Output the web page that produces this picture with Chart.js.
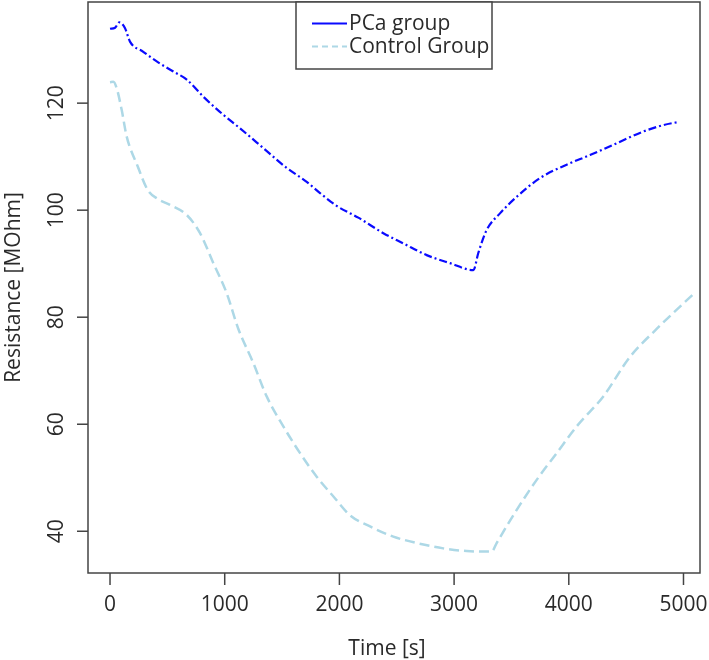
<!DOCTYPE html>
<html lang="en">
<head>
    <meta charset="UTF-8">
    <title>Resistance over time</title>
    <script src="https://cdn.jsdelivr.net/npm/chart.js"></script>
    <style>
        body {
            margin: 0;
            background-color: #fff;
        }
        .wrap {
            width: 709px;
            height: 660px;
        }
    </style>
</head>
<body>
    <div class="wrap">
        <canvas id="resChart"></canvas>
    </div>
    <script>
        // values
        const pcaTime = [0, 44, 81, 131, 174, 290, 407, 552, 669, 814, 989, 1133, 1337, 1540, 1715, 1831, 1976, 2165, 2383, 2557, 2761, 2964, 3168, 3211, 3284, 3400, 3546, 3749, 3981, 4185, 4417, 4650, 4824, 4960];
        const pcaResistance = [133.9, 134.1, 135.1, 134.0, 131.5, 129.6, 127.8, 125.9, 124.4, 121.2, 117.8, 115.3, 111.6, 107.9, 105.3, 103.2, 100.8, 98.6, 95.7, 93.8, 91.6, 90.1, 88.8, 92.0, 96.3, 99.4, 102.5, 106.0, 108.5, 110.3, 112.5, 114.7, 115.9, 116.5];

        const ctrlTime = [0, 29, 58, 102, 145, 241, 328, 416, 523, 669, 785, 901, 1017, 1119, 1250, 1366, 1511, 1657, 1802, 1948, 2092, 2267, 2470, 2674, 2906, 3110, 3328, 3371, 3546, 3720, 3894, 4069, 4301, 4534, 4766, 5100];
        const ctrlResistance = [123.9, 124.0, 122.8, 118.7, 113.8, 108.2, 103.8, 102.1, 101.0, 99.1, 95.7, 90.1, 84.5, 77.8, 71.4, 65.2, 59.6, 54.6, 50.2, 46.5, 43.0, 40.9, 39.0, 37.8, 36.8, 36.3, 36.2, 37.8, 44.0, 49.6, 54.6, 59.6, 65.2, 72.6, 77.8, 84.6];

        const xTicks = [0, 1000, 2000, 3000, 4000, 5000];
        const yTicks = [40, 60, 80, 100, 120];
        const seriesNames = ['PCa group', 'Control Group'];

        const FONT = '21px "Open Sans"';
        const INK = '#2a2a2a';

        function toPoints(xs, ys) {
            return xs.map((x, i) => ({ x: x, y: ys[i] }));
        }

        // R-style box, ticks, titles and legend
        const rAxes = {
            id: 'rAxes',
            afterDatasetsDraw(chart) {
                const ctx = chart.ctx;
                const a = chart.chartArea;
                const xs = chart.scales.x;
                const ys = chart.scales.y;
                ctx.save();
                ctx.strokeStyle = '#444';
                ctx.lineWidth = 1.5;
                ctx.strokeRect(a.left, a.top, a.right - a.left, a.bottom - a.top);

                ctx.fillStyle = INK;
                ctx.font = FONT;

                // x axis
                ctx.textAlign = 'center';
                ctx.textBaseline = 'alphabetic';
                xTicks.forEach(t => {
                    const px = xs.getPixelForValue(t);
                    ctx.beginPath();
                    ctx.moveTo(px, a.bottom);
                    ctx.lineTo(px, a.bottom + 12);
                    ctx.stroke();
                    ctx.fillText(String(t), px, 611);
                });
                ctx.fillText('Time [s]', (a.left + a.right) / 2 - 7, 655);

                // y axis
                yTicks.forEach(t => {
                    const py = ys.getPixelForValue(t);
                    ctx.beginPath();
                    ctx.moveTo(a.left, py);
                    ctx.lineTo(a.left - 11, py);
                    ctx.stroke();
                    ctx.save();
                    ctx.translate(63, py);
                    ctx.rotate(-Math.PI / 2);
                    ctx.fillText(String(t), 0, 0);
                    ctx.restore();
                });
                ctx.save();
                ctx.translate(19.5, (a.top + a.bottom) / 2);
                ctx.rotate(-Math.PI / 2);
                ctx.fillText('Resistance [MOhm]', 0, 0);
                ctx.restore();

                // legend
                const lx = 296, ly = a.top, lw = 196, lh = 67;
                ctx.fillStyle = '#fff';
                ctx.fillRect(lx, ly, lw, lh);
                ctx.strokeStyle = '#444';
                ctx.strokeRect(lx, ly, lw, lh);
                const ds = chart.data.datasets;
                const rows = [23.5, 46.5];
                ds.forEach((d, i) => {
                    ctx.strokeStyle = d.borderColor;
                    ctx.lineWidth = 2;
                    ctx.setLineDash(i === 0 ? [] : [6, 4]);
                    ctx.beginPath();
                    ctx.moveTo(312, rows[i]);
                    ctx.lineTo(347, rows[i]);
                    ctx.stroke();
                    ctx.setLineDash([]);
                    ctx.fillStyle = INK;
                    ctx.textAlign = 'left';
                    ctx.fillText(seriesNames[i], 349, rows[i] + 6.5);
                });
                ctx.restore();
            }
        };

        const ctx = document.getElementById('resChart').getContext('2d');
        const resChart = new Chart(ctx, {
            type: 'scatter',
            data: {
                datasets: [{
                    label: seriesNames[0],
                    data: toPoints(pcaTime, pcaResistance),
                    showLine: true,
                    borderColor: '#0a0aff',
                    borderWidth: 2.2,
                    borderDash: [8, 3, 2, 3],
                    pointRadius: 0,
                    cubicInterpolationMode: 'monotone'
                }, {
                    label: seriesNames[1],
                    data: toPoints(ctrlTime, ctrlResistance),
                    showLine: true,
                    borderColor: '#add8e6',
                    borderWidth: 2.5,
                    borderDash: [10, 5],
                    pointRadius: 0,
                    cubicInterpolationMode: 'monotone'
                }]
            },
            options: {
                responsive: true,
                maintainAspectRatio: false,
                animation: false,
                layout: {
                    padding: { left: 88, right: 9, top: 2, bottom: 87 }
                },
                plugins: {
                    legend: { display: false },
                    tooltip: { enabled: false }
                },
                scales: {
                    x: { type: 'linear', min: -192, max: 5144, display: false },
                    y: { type: 'linear', min: 32.2, max: 138.9, display: false }
                }
            },
            plugins: [rAxes]
        });
    </script>
</body>
</html>
